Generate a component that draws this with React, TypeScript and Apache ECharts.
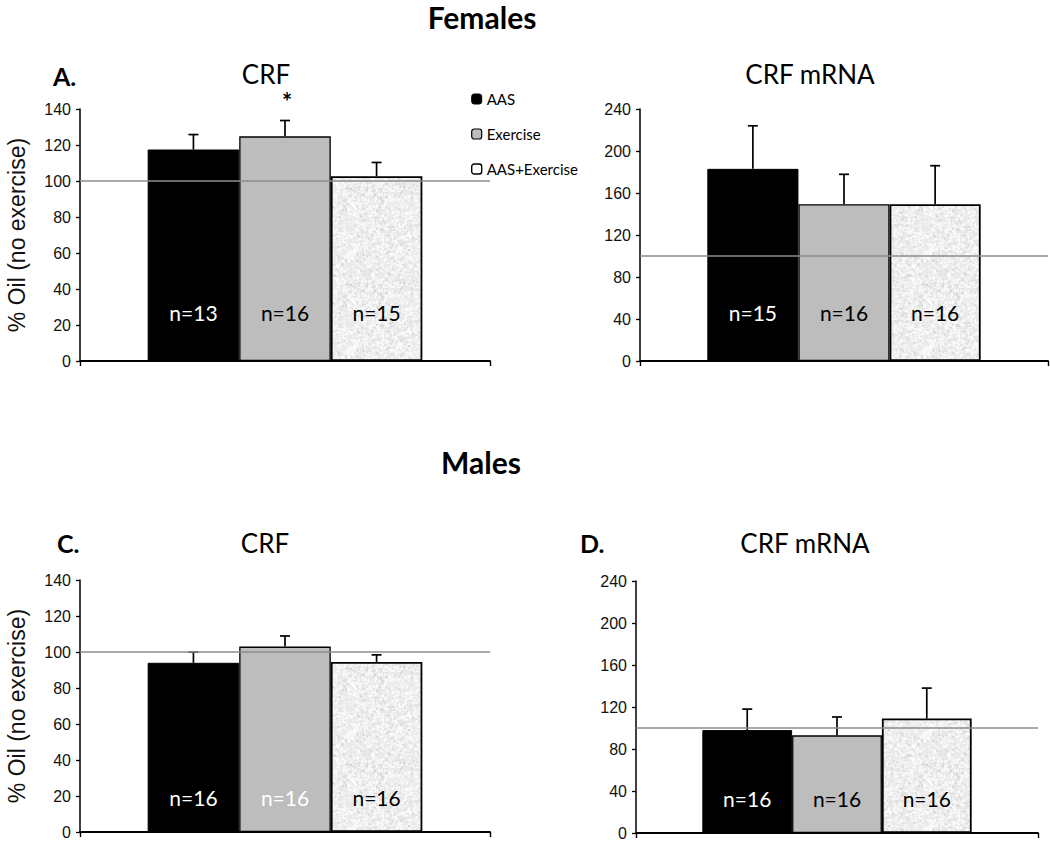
import React, { useEffect, useRef } from 'react';
import * as echarts from 'echarts';

// ---------- data ----------
const groups = ['AAS', 'Exercise', 'AAS+Exercise'];

const femaleCrfMean = [117.5, 124.8, 102.7];
const femaleCrfErr = [8.3, 8.8, 7.6];
const femaleCrfN = ['n=13', 'n=16', 'n=15'];

const femaleMrnaMean = [183, 149.4, 149.3];
const femaleMrnaErr = [41, 28.4, 36.7];
const femaleMrnaN = ['n=15', 'n=16', 'n=16'];

const maleCrfMean = [94, 103, 94.5];
const maleCrfErr = [5.9, 5.9, 3.9];
const maleCrfN = ['n=16', 'n=16', 'n=16'];

const maleMrnaMean = [98, 93, 109];
const maleMrnaErr = [20, 17.5, 29];
const maleMrnaN = ['n=16', 'n=16', 'n=16'];

const crfAxisRange = [0, 140, 20]; // min, max, interval
const mrnaAxisRange = [0, 240, 40];
const referenceValue = 100;
const yAxisTitle = '% Oil (no exercise)';

// ---------- styles ----------
const CAL = 'Lato, "Open Sans", sans-serif';
const ARIAL = '"Liberation Sans", Arial, sans-serif';
const GAP = 0.33;

function makeSpeckle(): HTMLCanvasElement {
  const size = 96;
  const c = document.createElement('canvas');
  c.width = size;
  c.height = size;
  const ctx = c.getContext('2d')!;
  ctx.fillStyle = '#ebebeb';
  ctx.fillRect(0, 0, size, size);
  let s = 987654;
  const rnd = () => {
    s = (s * 1103515245 + 12345) % 2147483648;
    return s / 2147483648;
  };
  for (let k = 0; k < 2600; k++) {
    const x = rnd() * size;
    const y = rnd() * size;
    const r = rnd();
    const g = r < 0.6 ? Math.floor(245 + rnd() * 10) : Math.floor(214 + rnd() * 24);
    ctx.fillStyle = `rgb(${g},${g},${g})`;
    ctx.fillRect(x, y, 1 + rnd() * 1.8, 1 + rnd() * 1.8);
  }
  return c;
}

type Panel = {
  mean: number[];
  err: number[];
  n: string[];
  range: number[];
  grid: { left: number; top: number; width: number; height: number };
  nColors: string[];
  labelDist: number;
  yName: boolean;
};

export default function App() {
  const ref = useRef<HTMLDivElement>(null);

  useEffect(() => {
    if (!ref.current) return;
    const chart = echarts.init(ref.current, undefined, { renderer: 'svg' });
    const speckle = makeSpeckle();
    const speckleUrl = speckle.toDataURL();

    const panels: Panel[] = [
      {
        mean: femaleCrfMean, err: femaleCrfErr, n: femaleCrfN, range: crfAxisRange,
        grid: { left: 80, top: 109, width: 410, height: 252 },
        nColors: ['#fff', '#000', '#000'], labelDist: 38, yName: true,
      },
      {
        mean: femaleMrnaMean, err: femaleMrnaErr, n: femaleMrnaN, range: mrnaAxisRange,
        grid: { left: 640, top: 109, width: 408, height: 252 },
        nColors: ['#fff', '#000', '#000'], labelDist: 38, yName: false,
      },
      {
        mean: maleCrfMean, err: maleCrfErr, n: maleCrfN, range: crfAxisRange,
        grid: { left: 80, top: 580, width: 410, height: 252 },
        nColors: ['#fff', '#fff', '#000'], labelDist: 24, yName: true,
      },
      {
        mean: maleMrnaMean, err: maleMrnaErr, n: maleMrnaN, range: mrnaAxisRange,
        grid: { left: 636, top: 581, width: 402, height: 252 },
        nColors: ['#fff', '#000', '#000'], labelDist: 24, yName: false,
      },
    ];

    const barStyles = [
      { color: '#000', borderColor: '#000', borderWidth: 1 },
      { color: '#bdbdbd', borderColor: '#000', borderWidth: 1.3 },
      {
        color: { image: speckleUrl, repeat: 'repeat', imageWidth: 96, imageHeight: 96 },
        borderColor: '#000', borderWidth: 1.8,
      },
    ];

    const grid: any[] = [];
    const xAxis: any[] = [];
    const yAxis: any[] = [];
    const series: any[] = [];

    panels.forEach((p, pi) => {
      grid.push({ ...p.grid, containLabel: false });
      xAxis.push({
        type: 'category', gridIndex: pi, data: ['all'],
        axisLine: { show: true, lineStyle: { color: '#000', width: 1.8 } },
        axisTick: { show: true, length: 5, lineStyle: { color: '#000', width: 1.4 } },
        axisLabel: { show: false },
        splitLine: { show: false },
      });
      yAxis.push({
        type: 'value', gridIndex: pi,
        min: p.range[0], max: p.range[1], interval: p.range[2],
        axisLine: { show: true, lineStyle: { color: '#000', width: 1.5 } },
        axisTick: { show: true, length: 4, lineStyle: { color: '#000', width: 1.3 } },
        axisLabel: { color: '#111', fontFamily: ARIAL, fontSize: 16, margin: 9 },
        splitLine: { show: false },
        name: p.yName ? yAxisTitle : '',
        nameLocation: 'middle',
        nameGap: 52,
        nameTextStyle: { color: '#111', fontFamily: ARIAL, fontSize: 23 },
      });
      groups.forEach((g, gi) => {
        series.push({
          type: 'bar', name: g, xAxisIndex: pi, yAxisIndex: pi,
          barGap: '0%', barCategoryGap: GAP * 100 + '%',
          itemStyle: barStyles[gi],
          data: [{
            value: p.mean[gi],
            label: {
              show: true, position: 'insideBottom', distance: p.labelDist,
              formatter: p.n[gi], color: p.nColors[gi],
              fontFamily: CAL, fontSize: 21,
            },
          }],
        });
      });
      series.push({
        type: 'custom', xAxisIndex: pi, yAxisIndex: pi, z: 4,
        encode: { x: 0, y: 2 },
        data: p.mean.map((m, gi) => [0, gi, m, m + p.err[gi]]),
        renderItem: (params: any, api: any) => {
          const gi = api.value(1);
          const base = api.coord([0, api.value(2)]);
          const top = api.coord([0, api.value(3)]);
          const band = api.size([1, 0])[0];
          const bw = (band * (1 - GAP)) / 3;
          const x = base[0] + (gi - 1) * bw;
          const st = { stroke: '#000', lineWidth: 1.7 };
          return {
            type: 'group',
            children: [
              { type: 'line', shape: { x1: x, y1: base[1], x2: x, y2: top[1] }, style: st },
              { type: 'line', shape: { x1: x - 5, y1: top[1], x2: x + 5, y2: top[1] }, style: st },
            ],
          };
        },
        markLine: {
          silent: true, symbol: 'none', z: 6,
          label: { show: false },
          lineStyle: { color: '#8c8c8c', width: 1.5, type: 'solid' },
          data: [{ yAxis: referenceValue }],
        },
      });
    });

    const txt = (text: string, x: number, y: number, font: string, align = 'center') => ({
      type: 'text', x, y,
      style: {
        text, font, fill: '#000',
        textAlign: align, textVerticalAlign: 'middle', align, verticalAlign: 'middle',
      },
    });

    const graphic = [
      txt('Females', 482, 17, `bold 30px ${CAL}`),
      txt('Males', 481, 462, `bold 30px ${CAL}`),
      txt('A.', 53, 76, `bold 25px ${CAL}`, 'left'),
      txt('C.', 57, 543, `bold 25px ${CAL}`, 'left'),
      txt('D.', 580, 543, `bold 25px ${CAL}`, 'left'),
      txt('CRF', 266, 74, `26px ${CAL}`),
      txt('CRF mRNA', 810, 74, `26px ${CAL}`),
      txt('CRF', 265, 543, `26px ${CAL}`),
      txt('CRF mRNA', 805, 543, `26px ${CAL}`),
      txt('*', 287, 101, `bold 24px ${CAL}`),
    ];

    chart.setOption({
      animation: false,
      backgroundColor: '#fff',
      grid, xAxis, yAxis, series, graphic,
      legend: {
        left: 466, top: 85, orient: 'vertical',
        itemWidth: 10, itemHeight: 10, itemGap: 17,
        textStyle: { fontFamily: CAL, fontSize: 15, color: '#000', lineHeight: 18 },
        selectedMode: false,
        data: [
          { name: 'AAS', itemStyle: { color: '#000', borderColor: '#000', borderWidth: 1 } },
          { name: 'Exercise', itemStyle: { color: '#bdbdbd', borderColor: '#000', borderWidth: 1.2 } },
          { name: 'AAS+Exercise', itemStyle: { color: '#fff', borderColor: '#000', borderWidth: 1.4 } },
        ],
      },
    });

    return () => chart.dispose();
  }, []);

  return (
    <div
      ref={ref}
      style={{ position: 'absolute', left: 0, top: 0, width: '1050px', height: '841px' }}
    />
  );
}
